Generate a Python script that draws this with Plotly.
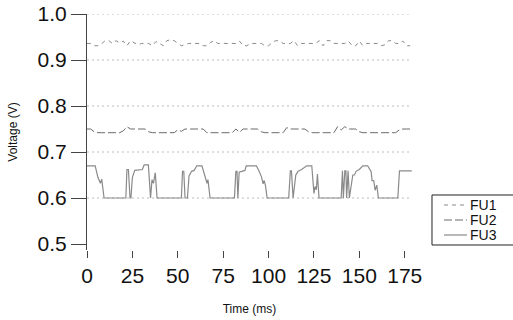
import plotly.graph_objects as go

# ---- data ----
t_grid = list(range(0, 180, 2))

fu1 = [0.936, 0.936, 0.931, 0.931, 0.935, 0.942, 0.942, 0.936, 0.942, 0.937,
       0.941, 0.931, 0.942, 0.937, 0.933, 0.936, 0.936, 0.936, 0.931, 0.940,
       0.936, 0.931, 0.942, 0.944, 0.942, 0.936, 0.931, 0.933, 0.936, 0.936,
       0.936, 0.936, 0.931, 0.931, 0.938, 0.942, 0.936, 0.936, 0.936, 0.936,
       0.936, 0.936, 0.941, 0.931, 0.931, 0.936, 0.936, 0.936, 0.936, 0.931,
       0.931, 0.938, 0.942, 0.942, 0.936, 0.936, 0.936, 0.942, 0.931, 0.936,
       0.936, 0.936, 0.936, 0.936, 0.942, 0.931, 0.942, 0.942, 0.936, 0.936,
       0.936, 0.936, 0.941, 0.931, 0.931, 0.941, 0.931, 0.936, 0.936, 0.936,
       0.936, 0.931, 0.933, 0.942, 0.942, 0.936, 0.936, 0.941, 0.931, 0.931]

fu2 = [0.750, 0.750, 0.744, 0.742, 0.742, 0.742, 0.742, 0.742, 0.742, 0.742,
       0.746, 0.755, 0.750, 0.750, 0.750, 0.750, 0.750, 0.744, 0.742, 0.742,
       0.742, 0.742, 0.742, 0.742, 0.742, 0.748, 0.745, 0.750, 0.750, 0.750,
       0.750, 0.750, 0.750, 0.742, 0.742, 0.742, 0.742, 0.742, 0.742, 0.742,
       0.742, 0.750, 0.743, 0.750, 0.750, 0.750, 0.750, 0.750, 0.744, 0.742,
       0.742, 0.742, 0.742, 0.742, 0.742, 0.753, 0.750, 0.750, 0.750, 0.750,
       0.750, 0.744, 0.742, 0.742, 0.742, 0.742, 0.742, 0.742, 0.742, 0.755,
       0.748, 0.755, 0.750, 0.750, 0.750, 0.744, 0.742, 0.742, 0.742, 0.742,
       0.742, 0.742, 0.742, 0.742, 0.742, 0.742, 0.748, 0.750, 0.750, 0.750]

fu3_t = [0, 4.5, 6, 7.4, 8.1, 8.5, 9.4, 21.4, 22.0, 22.8, 23.7, 24.2, 25.0, 26.3,
         30.5, 31.5, 33.8, 35.0, 35.8, 36.6, 37.6, 38.6, 52.0, 52.6, 53.3, 54.0,
         55.3, 56.2, 57.6, 59.0, 60.5, 63.3, 64.3, 65.3, 66.1, 66.6, 67.1, 67.8,
         81.2, 82.0, 82.6, 83.1, 83.8, 85.3, 87.0, 87.7, 93.3, 94.8, 96.1, 97.0,
         97.6, 98.3, 99.2, 111.1, 112.0, 112.6, 113.5, 115.0, 116.3, 118.2, 121.0,
         123.8, 125.0, 125.6, 126.3, 126.9, 127.8, 140.0, 140.7, 141.2, 142.0,
         142.6, 143.0, 143.8, 144.5, 146.4, 147.3, 148.2, 150.0, 151.9, 154.6,
         156.5, 157.0, 157.9, 158.7, 159.6, 160.5, 171.2, 172.1, 178.9]
fu3_v = [0.670, 0.670, 0.645, 0.632, 0.641, 0.628, 0.600, 0.600, 0.662, 0.662,
         0.600, 0.600, 0.645, 0.660, 0.662, 0.672, 0.672, 0.600, 0.640, 0.632,
         0.655, 0.600, 0.600, 0.658, 0.658, 0.600, 0.600, 0.648, 0.658, 0.660,
         0.670, 0.670, 0.657, 0.642, 0.632, 0.640, 0.626, 0.600, 0.600, 0.658,
         0.658, 0.600, 0.656, 0.658, 0.660, 0.670, 0.670, 0.658, 0.646, 0.631,
         0.638, 0.627, 0.600, 0.600, 0.659, 0.659, 0.600, 0.650, 0.658, 0.662,
         0.670, 0.670, 0.610, 0.625, 0.618, 0.652, 0.600, 0.600, 0.659, 0.600,
         0.659, 0.659, 0.600, 0.659, 0.600, 0.650, 0.650, 0.658, 0.662, 0.670,
         0.670, 0.657, 0.638, 0.638, 0.617, 0.628, 0.600, 0.600, 0.659, 0.659]

series_names = ["FU1", "FU2", "FU3"]
x_ticks = [0, 25, 50, 75, 100, 125, 150, 175]
y_ticks = [0.5, 0.6, 0.7, 0.8, 0.9, 1.0]
grid_levels = [0.6, 0.7, 0.8, 0.9, 1.0]

FONT = "Liberation Sans, Arial, Helvetica, sans-serif"
styles = [dict(color="#8a8a8a", width=1, dash="4px,4px"),
          dict(color="#6a6a6a", width=1, dash="8px,3px"),
          dict(color="#8a8a8a", width=1.2, dash="solid")]

fig = go.Figure()
for name, xs, ys, st in zip(series_names, [t_grid, t_grid, fu3_t], [fu1, fu2, fu3_v], styles):
    fig.add_trace(go.Scatter(x=xs, y=ys, name=name, mode="lines", line=st,
                             showlegend=False))

for g in grid_levels:
    fig.add_shape(type="line", xref="paper", x0=0, x1=1, yref="y", y0=g, y1=g,
                  line=dict(color="#bdbdbd", width=1, dash="2px,3px"), layer="below")

# legend box drawn in paper coordinates (box runs past the right edge as in the reference)
fig.add_shape(type="rect", xref="paper", yref="paper", x0=1.0615, x1=1.40,
              y0=0.0212, y1=0.2331, line=dict(color="#222", width=1), fillcolor="white")
legend_y = [0.1907, 0.1271, 0.0636]
for name, st, ly in zip(series_names, styles, legend_y):
    fig.add_shape(type="line", xref="paper", yref="paper", x0=1.0985, x1=1.1692,
                  y0=ly, y1=ly, line=st)
    fig.add_annotation(xref="paper", yref="paper", x=1.1735, y=ly, text=name,
                       showarrow=False, xanchor="left", yanchor="middle",
                       font=dict(size=14, family=FONT, color="#111"))

fig.update_layout(
    width=513, height=320,
    margin=dict(l=87, r=101, t=14, b=70, autoexpand=False),
    paper_bgcolor="white", plot_bgcolor="white",
    font=dict(family=FONT, color="#111"),
    showlegend=False,
)
fig.update_xaxes(range=[0, 179], tickvals=x_ticks, ticks="outside", ticklen=7,
                 tickcolor="#444", showline=False, showgrid=False, zeroline=False,
                 tickfont=dict(size=21, family=FONT),
                 title=dict(text="Time (ms)", font=dict(size=12, family=FONT), standoff=18))
fig.update_yaxes(range=[0.487, 1.0], tickvals=y_ticks, tickformat=".1f",
                 ticks="outside", ticklen=15, tickcolor="#444",
                 showline=True, linecolor="#444", linewidth=1,
                 showgrid=False, zeroline=False,
                 tickfont=dict(size=21, family=FONT),
                 title=dict(text="Voltage (V)", font=dict(size=12, family=FONT), standoff=17))

fig.write_html("out.html", config={"displayModeBar": False},
               post_script="document.body.style.margin='0';document.body.style.overflow='hidden';")
